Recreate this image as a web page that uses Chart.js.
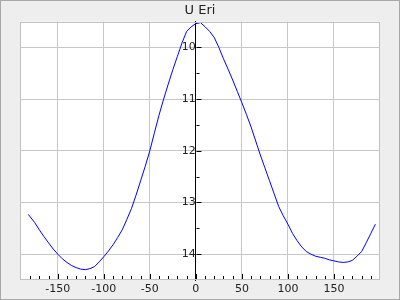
<!DOCTYPE html>
<html>
<head>
<meta charset="utf-8">
<script src="https://cdn.jsdelivr.net/npm/chart.js@4/dist/chart.umd.min.js"></script>
<style>
  html, body { margin: 0; padding: 0; background: #eeeeee; }
  #c { display: block; }
</style>
</head>
<body>
<canvas id="c" width="400" height="300"></canvas>
<script>
const titleText = "U Eri";
const phase = [-182,-175,-170,-165,-160,-155,-150,-145,-140,-135,-130,-125,-120,-115,-110,-105,-100,-95,-90,-85,-80,-75,-70,-65,-60,-55,-50,-45,-40,-35,-30,-25,-20,-15,-10,-5,0,5,10,15,20,25,30,35,40,45,50,55,60,65,70,75,80,85,90,95,100,105,110,115,120,125,130,135,140,145,150,155,160,165,170,175,180,185,190,195];
const mag = [13.23,13.39,13.53,13.66,13.78,13.9,14.0,14.09,14.16,14.22,14.26,14.29,14.3,14.28,14.24,14.15,14.05,13.94,13.82,13.68,13.53,13.33,13.12,12.86,12.58,12.3,12.0,11.65,11.31,11.0,10.71,10.43,10.17,9.91,9.69,9.6,9.54,9.52,9.6,9.69,9.81,10.0,10.22,10.42,10.63,10.85,11.07,11.3,11.54,11.81,12.08,12.33,12.58,12.83,13.08,13.26,13.42,13.6,13.74,13.86,13.95,14.0,14.04,14.06,14.08,14.11,14.13,14.15,14.16,14.15,14.12,14.04,13.95,13.78,13.6,13.42];
const xTicks = [-150,-100,-50,0,50,100,150];
const yTicks = [10,11,12,13,14];
const xMinorTicks = [-180,-170,-160,-150,-140,-130,-120,-110,-100,-90,-80,-70,-60,-50,-40,-30,-20,-10,0,10,20,30,40,50,60,70,80,90,100,110,120,130,140,150,160,170,180,190];
const yMinorTicks = [10,10.5,11,11.5,12,12.5,13,13.5,14];

const frame = {
  id: 'frame',
  beforeDraw(chart) {
    const ctx = chart.ctx, a = chart.chartArea;
    ctx.save();
    ctx.fillStyle = '#eeeeee';
    ctx.fillRect(0, 0, chart.width, chart.height);
    ctx.strokeStyle = '#a8a8a8';
    ctx.lineWidth = 1;
    ctx.strokeRect(0.5, 0.5, chart.width - 1, chart.height - 1);
    ctx.fillStyle = '#ffffff';
    ctx.fillRect(a.left, a.top, a.right - a.left, a.bottom - a.top);
    ctx.restore();
  },
  afterDraw(chart) {
    const ctx = chart.ctx, a = chart.chartArea;
    const xs = chart.scales.x, ys = chart.scales.y;
    ctx.save();
    ctx.strokeStyle = '#c0c0c0';
    ctx.lineWidth = 1;
    ctx.strokeRect(Math.round(a.left) + 0.5, Math.round(a.top) + 0.5, Math.round(a.right - a.left) - 1, Math.round(a.bottom - a.top) - 1);
    ctx.strokeStyle = '#000000';
    ctx.beginPath();
    const bottom = Math.round(a.bottom) - 1;
    xMinorTicks.forEach(v => {
      const x = Math.round(xs.getPixelForValue(v)) + 0.5;
      const len = (v % 50 === 0) ? 5 : 3;
      ctx.moveTo(x, bottom);
      ctx.lineTo(x, bottom - len);
    });
    const x0 = Math.round(xs.getPixelForValue(0)) + 0.5;
    yMinorTicks.forEach(v => {
      const y = Math.round(ys.getPixelForValue(v)) + 0.5;
      const len = (v % 1 === 0) ? 5 : 3;
      ctx.moveTo(x0, y);
      ctx.lineTo(x0 + len, y);
    });
    ctx.stroke();
    ctx.restore();
  }
};

new Chart(document.getElementById('c'), {
  type: 'line',
  data: {
    datasets: [{
      data: phase.map((p, i) => ({x: p, y: mag[i]})),
      borderColor: '#0000ff',
      borderWidth: 1,
      pointRadius: 0,
      tension: 0,
      fill: false
    }]
  },
  options: {
    responsive: false,
    animation: false,
    devicePixelRatio: 1,
    layout: { padding: { left: 20, right: 20, top: 0, bottom: 0 } },
    plugins: {
      legend: { display: false },
      tooltip: { enabled: false },
      title: {
        display: true,
        text: titleText,
        color: '#222222',
        font: { family: 'DejaVu Sans', size: 13, weight: 'normal' },
        padding: { top: 3, bottom: 3 }
      }
    },
    scales: {
      x: {
        type: 'linear',
        position: 'bottom',
        min: -191,
        max: 200,
        afterBuildTicks: s => { s.ticks = xTicks.map(v => ({ value: v })); },
        afterFit: s => { s.height = 20; },
        grid: { color: '#c8c8c8', lineWidth: 1, drawTicks: false },
        border: { display: false },
        ticks: {
          color: '#222222',
          font: { family: 'DejaVu Sans', size: 11 },
          padding: 3,
          maxRotation: 0,
          autoSkip: false
        }
      },
      y: {
        type: 'linear',
        reverse: true,
        min: 9.5,
        max: 14.5,
        position: { x: 0 },
        afterBuildTicks: s => { s.ticks = yTicks.map(v => ({ value: v })); },
        grid: { color: '#c8c8c8', lineWidth: 1, drawTicks: false },
        border: { display: true, color: '#000000', width: 1 },
        ticks: {
          color: '#222222',
          font: { family: 'DejaVu Sans', size: 11 },
          padding: 9
        }
      }
    }
  },
  plugins: [frame]
});
</script>
</body>
</html>
